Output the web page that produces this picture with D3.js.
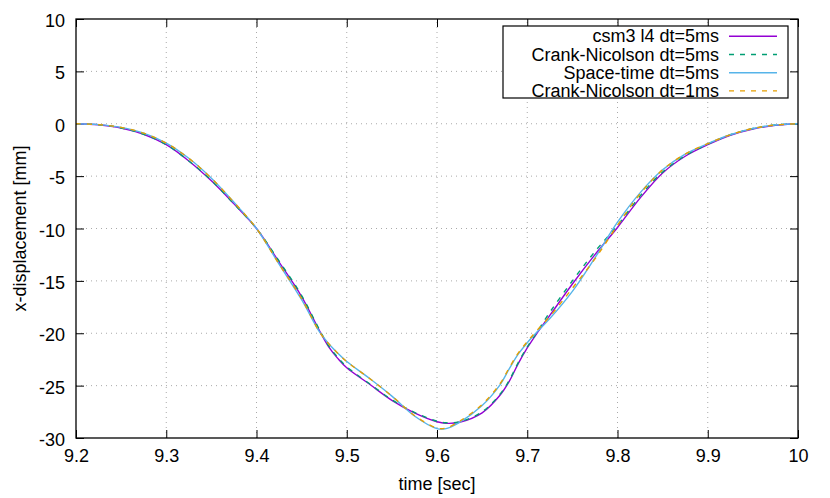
<!DOCTYPE html>
<html>
<head>
<meta charset="utf-8">
<script src="https://cdn.jsdelivr.net/npm/d3@7"></script>
<style>
  body { margin: 0; background: #fff; }
  text { font-family: "Liberation Sans", Arial, sans-serif; }
</style>
</head>
<body>
<svg id="chart" width="830" height="498"></svg>
<script>
// time samples [sec]
const times = [9.2, 9.225, 9.25, 9.275, 9.3, 9.325, 9.35, 9.375, 9.4, 9.425, 9.45, 9.47, 9.48, 9.49, 9.5, 9.525, 9.55, 9.575, 9.6, 9.61, 9.625, 9.65, 9.67, 9.68, 9.69, 9.7, 9.71, 9.725, 9.75, 9.775, 9.8, 9.825, 9.85, 9.875, 9.9, 9.925, 9.95, 9.975, 10];

// x-displacement [mm] per series
const csm3 =      [0, -0.1, -0.4, -1.0, -2.0, -3.55, -5.45, -7.65, -10.0, -13.2, -16.5, -19.8, -21.3, -22.4, -23.3, -24.85, -26.4, -27.6, -28.45, -28.6, -28.5, -27.6, -25.9, -24.6, -22.9, -21.4, -20.1, -18.3, -15.3, -12.5, -9.9, -7.1, -4.7, -3.1, -2.0, -1.1, -0.5, -0.15, 0];
const cn5 =       [0, -0.1, -0.4, -1.0, -2.0, -3.55, -5.4, -7.65, -10.0, -13.1, -16.4, -19.7, -21.2, -22.3, -23.2, -24.8, -26.35, -27.55, -28.4, -28.55, -28.45, -27.5, -25.8, -24.5, -22.8, -21.3, -20.0, -18.0, -15.0, -12.2, -9.7, -6.9, -4.6, -3.05, -1.95, -1.05, -0.45, -0.12, 0];
const spaceTime = [0, -0.08, -0.35, -0.9, -1.85, -3.3, -5.2, -7.5, -10.0, -13.4, -16.8, -19.9, -21.0, -21.9, -22.7, -24.3, -26.0, -27.9, -29.1, -29.1, -28.5, -26.9, -24.9, -23.4, -22.0, -20.9, -19.95, -18.6, -16.0, -12.8, -9.4, -6.6, -4.4, -2.9, -1.9, -1.05, -0.45, -0.12, 0];
const cn1 =       [0, -0.08, -0.35, -0.9, -1.85, -3.3, -5.2, -7.5, -10.0, -13.4, -16.7, -19.9, -21.0, -21.9, -22.7, -24.3, -26.0, -27.85, -29.05, -29.05, -28.4, -26.8, -24.8, -23.3, -21.9, -20.8, -19.8, -18.4, -15.7, -12.9, -9.7, -6.7, -4.4, -2.9, -1.9, -1.05, -0.45, -0.12, 0];

const seriesNames = ["csm3 l4 dt=5ms", "Crank-Nicolson dt=5ms", "Space-time dt=5ms", "Crank-Nicolson dt=1ms"];
const seriesValues = [csm3, cn5, spaceTime, cn1];
const seriesColors = ["#9400d3", "#009e73", "#56b4e9", "#e69f00"];
const seriesDash = [null, "5,6", null, "5,6"];

const xTicks = [9.2, 9.3, 9.4, 9.5, 9.6, 9.7, 9.8, 9.9, 10];
const yTicks = [10, 5, 0, -5, -10, -15, -20, -25, -30];

const svg = d3.select("#chart");
const m = {left: 76, right: 32, top: 19, bottom: 60};
const W = 830, H = 498;

const x = d3.scaleLinear().domain([9.2, 10]).range([m.left, W - m.right]);
const y = d3.scaleLinear().domain([-30, 10]).range([H - m.bottom, m.top]);

// grid
const grid = svg.append("g").attr("stroke", "#aaa").attr("stroke-width", 1).attr("stroke-dasharray", "1,4");
xTicks.slice(1, -1).forEach(t => grid.append("line")
  .attr("x1", x(t)).attr("x2", x(t)).attr("y1", y(-30)).attr("y2", y(10)));
yTicks.slice(1, -1).forEach(t => grid.append("line")
  .attr("x1", x(9.2)).attr("x2", x(10)).attr("y1", y(t)).attr("y2", y(t)));

// axes (ticks pointing inward, mirrored on top/right)
const fmt = d => String(d);
const ax = (g, axis) => { g.call(axis); g.select(".domain").remove(); g.selectAll("line").attr("stroke", "#000"); };
svg.append("g").attr("transform", `translate(0,${y(-30)})`)
  .call(g => ax(g, d3.axisBottom(x).tickValues(xTicks).tickFormat(fmt).tickSize(-8).tickPadding(11)))
  .selectAll("text").attr("font-size", 18).attr("fill", "#000");
svg.append("g").attr("transform", `translate(0,${y(10)})`)
  .call(g => ax(g, d3.axisTop(x).tickValues(xTicks).tickSize(-8).tickFormat("")));
svg.append("g").attr("transform", `translate(${x(9.2)},0)`)
  .call(g => ax(g, d3.axisLeft(y).tickValues(yTicks).tickFormat(fmt).tickSize(-8).tickPadding(11)))
  .selectAll("text").attr("font-size", 18).attr("fill", "#000").attr("dy", "0.42em");
svg.append("g").attr("transform", `translate(${x(10)},0)`)
  .call(g => ax(g, d3.axisRight(y).tickValues(yTicks).tickSize(-8).tickFormat("")));

// curves
const line = d3.line().x(d => x(d[0])).y(d => y(d[1])).curve(d3.curveCatmullRom.alpha(0.5));
const plot = svg.append("g");
seriesValues.forEach((vals, i) => {
  plot.append("path")
    .datum(times.map((t, j) => [t, vals[j]]))
    .attr("d", line)
    .attr("fill", "none")
    .attr("stroke", seriesColors[i])
    .attr("stroke-width", 1.4)
    .attr("stroke-dasharray", seriesDash[i]);
});

// frame
svg.append("rect").attr("x", x(9.2)).attr("y", y(10))
  .attr("width", x(10) - x(9.2)).attr("height", y(-30) - y(10))
  .attr("fill", "none").attr("stroke", "#000").attr("stroke-width", 1.3);

// legend
const lg = svg.append("g");
lg.append("rect").attr("x", 503).attr("y", 26).attr("width", 285).attr("height", 72)
  .attr("fill", "#fff").attr("stroke", "#000").attr("stroke-width", 1.2);
seriesNames.forEach((n, i) => {
  const base = 42.3 + i * 18.2;
  lg.append("text").attr("x", 719).attr("y", base).attr("text-anchor", "end")
    .attr("font-size", 18).text(n);
  lg.append("line").attr("x1", 729).attr("x2", 777).attr("y1", base - 6).attr("y2", base - 6)
    .attr("stroke", seriesColors[i]).attr("stroke-width", 1.4)
    .attr("stroke-dasharray", seriesDash[i]);
});

// axis titles
svg.append("text").attr("x", (x(9.2) + x(10)) / 2).attr("y", 490).attr("text-anchor", "middle")
  .attr("font-size", 18).text("time [sec]");
svg.append("text").attr("transform", `translate(26,${(y(10) + y(-30)) / 2}) rotate(-90)`)
  .attr("text-anchor", "middle").attr("font-size", 18).text("x-displacement [mm]");
</script>
</body>
</html>
